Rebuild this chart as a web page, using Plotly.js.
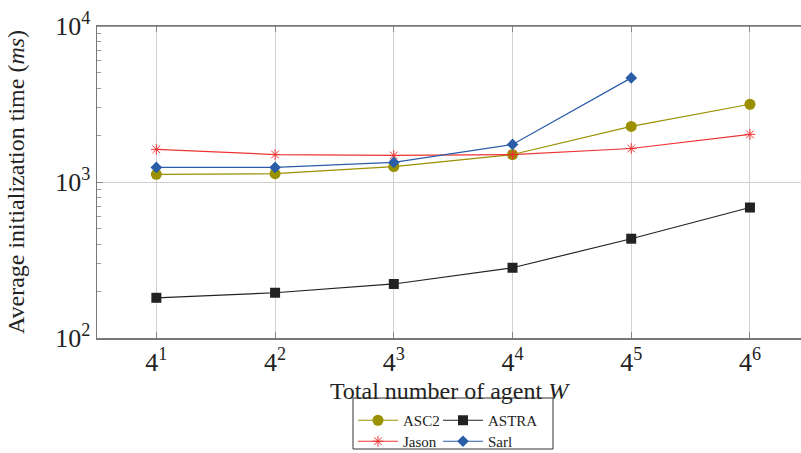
<!DOCTYPE html>
<html>
<head>
<meta charset="utf-8">
<script src="https://cdn.plot.ly/plotly-3.0.1.min.js"></script>
<style>html,body{margin:0;padding:0;background:#fff;}#chart{width:801px;height:453px;}</style>
</head>
<body>
<div id="chart"></div>
<script>
// exponents of 4 (total number of agents W = 4^k)
const exponents = [1, 2, 3, 4, 5, 6];
const tickLabels = ["4<sup>1</sup>", "4<sup>2</sup>", "4<sup>3</sup>", "4<sup>4</sup>", "4<sup>5</sup>", "4<sup>6</sup>"];
const asc2 = [1120, 1130, 1255, 1500, 2270, 3150];
const astra = [181, 195, 222, 282, 433, 686];
const jason = [1620, 1500, 1480, 1500, 1640, 2020];
const sarlExp = [1, 2, 3, 4, 5];
const sarl = [1240, 1240, 1335, 1740, 4650];
const yTickVals = [100, 1000, 10000];
const yTickText = ["10<sup>2</sup>", "10<sup>3</sup>", "10<sup>4</sup>"];
const yMinor = [200,300,400,500,600,700,800,900,2000,3000,4000,5000,6000,7000,8000,9000];

const font = "Liberation Serif, Times New Roman, serif";
const traces = [
  {x: exponents, y: asc2, name: "ASC2", mode: "lines+markers", legend: "legend",
   line: {color: "#9a9000", width: 1.2}, marker: {symbol: "circle", size: 11, color: "#9a9000"}},
  {x: exponents, y: astra, name: "ASTRA", mode: "lines+markers", legend: "legend3",
   line: {color: "#222222", width: 1.2}, marker: {symbol: "square", size: 10, color: "#222222"}},
  {x: exponents, y: jason, name: "Jason", mode: "lines+markers", legend: "legend2",
   line: {color: "#ee3333", width: 1.2}, marker: {symbol: "asterisk-open", size: 9, color: "#ee3333", line: {color: "#ee3333", width: 1}}},
  {x: sarlExp, y: sarl, name: "Sarl", mode: "lines+markers", legend: "legend4",
   line: {color: "#2a5ca8", width: 1.2}, marker: {symbol: "diamond", size: 9, color: "#2a5ca8"}}
];

const legendCommon = {orientation: "h", xref: "paper", yref: "container", xanchor: "left", yanchor: "top",
  font: {family: font, size: 15, color: "#222"}, bgcolor: "rgba(0,0,0,0)", borderwidth: 0,
  itemwidth: 40, tracegroupgap: 0};
const col1 = (353 - 97) / 704, col2 = (438 - 97) / 704;
const row1 = 1 - 404 / 453, row2 = 1 - 425 / 453;

const layout = {
  width: 801, height: 453,
  margin: {l: 97, r: 0, t: 26, b: 115, autoexpand: false},
  paper_bgcolor: "#fff", plot_bgcolor: "#fff",
  font: {family: font, color: "#222"},
  showlegend: true,
  xaxis: {
    range: [0.5, 6.43], tickmode: "array", tickvals: exponents, ticktext: tickLabels,
    ticks: "inside", ticklen: 6, tickcolor: "#888", mirror: "ticks", automargin: false,
    showline: true, linecolor: "#777", linewidth: 1.5,
    showgrid: true, gridcolor: "#d0d0d0", gridwidth: 1, zeroline: false,
    tickfont: {family: font, size: 26, color: "#222"},
    title: {text: "Total number of agent <i>W</i>", font: {family: font, size: 24, color: "#222"}, standoff: 6}
  },
  yaxis: {
    type: "log", range: [2, 4], tickmode: "array", tickvals: yTickVals, ticktext: yTickText,
    ticks: "inside", ticklen: 6, tickcolor: "#888", automargin: false,
    showline: true, linecolor: "#777", linewidth: 1.5,
    showgrid: true, gridcolor: "#d0d0d0", gridwidth: 1, zeroline: false,
    minor: {tickmode: "array", tickvals: yMinor, ticks: "inside", ticklen: 4, tickcolor: "#999", showgrid: false},
    tickfont: {family: font, size: 26, color: "#222"},
    title: {text: "Average initialization time (<i>ms</i>)", font: {family: font, size: 24, color: "#222"}, standoff: 24}
  },
  legend: Object.assign({}, legendCommon, {x: col1, y: row1}),
  legend2: Object.assign({}, legendCommon, {x: col1, y: row2}),
  legend3: Object.assign({}, legendCommon, {x: col2, y: row1}),
  legend4: Object.assign({}, legendCommon, {x: col2, y: row2}),
  shapes: [
    {type: "line", xref: "paper", yref: "paper", x0: 0, x1: 1, y0: 1, y1: 1, line: {color: "#777", width: 1.5}},
    {type: "rect", xref: "paper", yref: "paper", x0: (353-97)/704, x1: (553-97)/704,
     y0: -(449-338)/312, y1: -(398-338)/312, line: {color: "#333", width: 1}}
  ]
};

Plotly.newPlot("chart", traces, layout, {displayModeBar: false, staticPlot: true});
</script>
</body>
</html>
